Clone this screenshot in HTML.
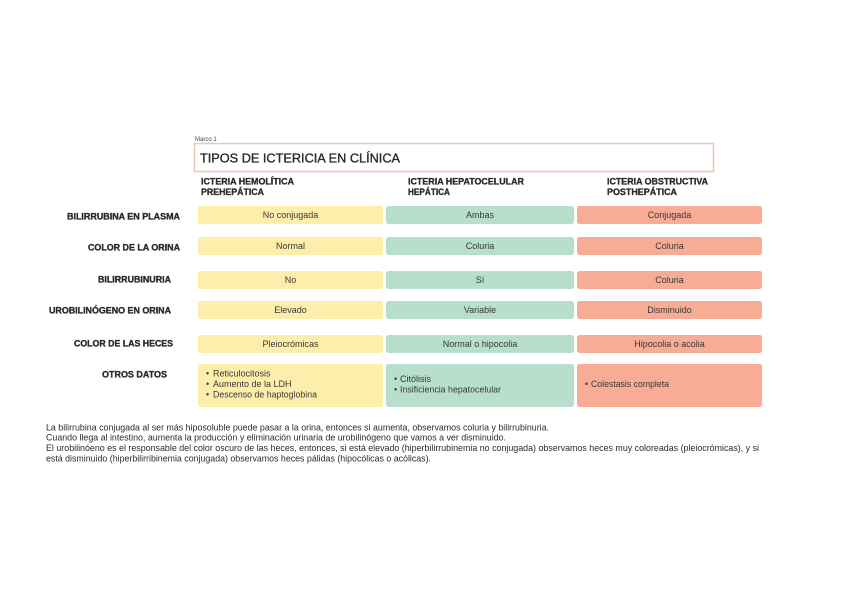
<!DOCTYPE html>
<html><head><meta charset="utf-8"><style>
html,body{margin:0;padding:0;background:#fff;}
svg{display:block;}
text{font-family:"Liberation Sans",Arial,sans-serif;}
.lb{font-weight:bold;font-size:9.2px;fill:#2a2a2a;stroke:#2a2a2a;stroke-width:0.35px;}
.hd{font-weight:bold;font-size:8.8px;fill:#2a2a2a;stroke:#2a2a2a;stroke-width:0.3px;}
.c{font-size:9px;fill:#383838;text-anchor:middle;}
.t{font-size:9px;fill:#383838;}
.p{font-size:9.2px;fill:#2a2a2a;}
</style></head><body>
<svg width="848" height="600" viewBox="0 0 848 600" xmlns="http://www.w3.org/2000/svg">
<rect width="848" height="600" fill="#fff"/>
<text x="195" y="141" style="font-size:6px;fill:#444">Marco 1</text>
<rect x="194.5" y="143.5" width="519" height="28" fill="#fff" stroke="#f1c7bb" stroke-width="1.6"/>
<text x="200" y="162.5" style="font-size:12.7px;fill:#2a2a2a;stroke:#2a2a2a;stroke-width:0.35px" textLength="200" lengthAdjust="spacingAndGlyphs">TIPOS DE ICTERICIA EN CLÍNICA</text>

<text class="hd" x="201" y="184.5" textLength="93" lengthAdjust="spacingAndGlyphs">ICTERIA HEMOLÍTICA</text>
<text class="hd" x="201" y="195" textLength="63" lengthAdjust="spacingAndGlyphs">PREHEPÁTICA</text>
<text class="hd" x="408" y="184.5" textLength="116" lengthAdjust="spacingAndGlyphs">ICTERIA HEPATOCELULAR</text>
<text class="hd" x="408" y="195" textLength="42" lengthAdjust="spacingAndGlyphs">HEPÁTICA</text>
<text class="hd" x="607" y="184.5" textLength="101" lengthAdjust="spacingAndGlyphs">ICTERIA OBSTRUCTIVA</text>
<text class="hd" x="607" y="195" textLength="70" lengthAdjust="spacingAndGlyphs">POSTHEPÁTICA</text>

<g fill="#fdeeab">
<rect x="198" y="206" width="185" height="18" rx="2.5"/>
<rect x="198" y="237" width="185" height="18" rx="2.5"/>
<rect x="198" y="271" width="185" height="18" rx="2.5"/>
<rect x="198" y="301" width="185" height="18" rx="2.5"/>
<rect x="198" y="335" width="185" height="18" rx="2.5"/>
<rect x="198" y="364" width="185" height="43" rx="2.5"/>
</g>
<g fill="#b8dfcc">
<rect x="386" y="206" width="188" height="18" rx="2.5"/>
<rect x="386" y="237" width="188" height="18" rx="2.5"/>
<rect x="386" y="271" width="188" height="18" rx="2.5"/>
<rect x="386" y="301" width="188" height="18" rx="2.5"/>
<rect x="386" y="335" width="188" height="18" rx="2.5"/>
<rect x="386" y="364" width="188" height="43" rx="2.5"/>
</g>
<g fill="#f8ac96">
<rect x="577" y="206" width="185" height="18" rx="2.5"/>
<rect x="577" y="237" width="185" height="18" rx="2.5"/>
<rect x="577" y="271" width="185" height="18" rx="2.5"/>
<rect x="577" y="301" width="185" height="18" rx="2.5"/>
<rect x="577" y="335" width="185" height="18" rx="2.5"/>
<rect x="577" y="364" width="185" height="43" rx="2.5"/>
</g>

<text class="lb" x="67" y="219.4" textLength="113" lengthAdjust="spacingAndGlyphs">BILIRRUBINA EN PLASMA</text>
<text class="lb" x="88" y="250.4" textLength="92" lengthAdjust="spacingAndGlyphs">COLOR DE LA ORINA</text>
<text class="lb" x="98" y="282.4" textLength="73" lengthAdjust="spacingAndGlyphs">BILIRRUBINURIA</text>
<text class="lb" x="49" y="313.4" textLength="122" lengthAdjust="spacingAndGlyphs">UROBILINÓGENO EN ORINA</text>
<text class="lb" x="74" y="346.4" textLength="99" lengthAdjust="spacingAndGlyphs">COLOR DE LAS HECES</text>
<text class="lb" x="102" y="377.4" textLength="65" lengthAdjust="spacingAndGlyphs">OTROS DATOS</text>

<text class="c" x="290.5" y="218.2">No conjugada</text>
<text class="c" x="480" y="218.2">Ambas</text>
<text class="c" x="669.5" y="218.2">Conjugada</text>
<text class="c" x="290.5" y="249.2">Normal</text>
<text class="c" x="480" y="249.2">Coluria</text>
<text class="c" x="669.5" y="249.2">Coluria</text>
<text class="c" x="290.5" y="283.2">No</text>
<text class="c" x="480" y="283.2">Sí</text>
<text class="c" x="669.5" y="283.2">Coluria</text>
<text class="c" x="290.5" y="313.2">Elevado</text>
<text class="c" x="480" y="313.2">Variable</text>
<text class="c" x="669.5" y="313.2">Disminuido</text>
<text class="c" x="290.5" y="347.2">Pleiocrómicas</text>
<text class="c" x="480" y="347.2">Normal o hipocolia</text>
<text class="c" x="669.5" y="347.2">Hipocolia o acolia</text>

<text class="t" x="206" y="376.5">•</text><text class="t" x="213" y="376.5">Reticulocitosis</text>
<text class="t" x="206" y="387">•</text><text class="t" x="213" y="387">Aumento de la LDH</text>
<text class="t" x="206" y="397.5">•</text><text class="t" x="213" y="397.5" textLength="104" lengthAdjust="spacingAndGlyphs">Descenso de haptoglobina</text>
<text class="t" x="394" y="382">•</text><text class="t" x="400" y="382">Citólisis</text>
<text class="t" x="394" y="392.5">•</text><text class="t" x="400" y="392.5" textLength="101" lengthAdjust="spacingAndGlyphs">Insificiencia hepatocelular</text>
<text class="t" x="585" y="387">•</text><text class="t" x="591" y="387" textLength="78" lengthAdjust="spacingAndGlyphs">Colestasis completa</text>

<text class="p" x="46" y="430.3" textLength="503" lengthAdjust="spacingAndGlyphs">La bilirrubina conjugada al ser más hiposoluble puede pasar a la orina, entonces si aumenta, observamos coluria y bilirrubinuria.</text>
<text class="p" x="46" y="440.7" textLength="460" lengthAdjust="spacingAndGlyphs">Cuando llega al intestino, aumenta la producción y eliminación urinaria de urobilinógeno que vamos a ver disminuido.</text>
<text class="p" x="46" y="451.2" textLength="713" lengthAdjust="spacingAndGlyphs">El urobilinóeno es el responsable del color oscuro de las heces, entonces, si está elevado (hiperbilirrubinemia no conjugada) observamos heces muy coloreadas (pleiocrómicas), y si</text>
<text class="p" x="46" y="461.5" textLength="385" lengthAdjust="spacingAndGlyphs">está disminuido (hiperbilirribinemia conjugada) observamos heces pálidas (hipocólicas o acólicas).</text>
</svg>
</body></html>
